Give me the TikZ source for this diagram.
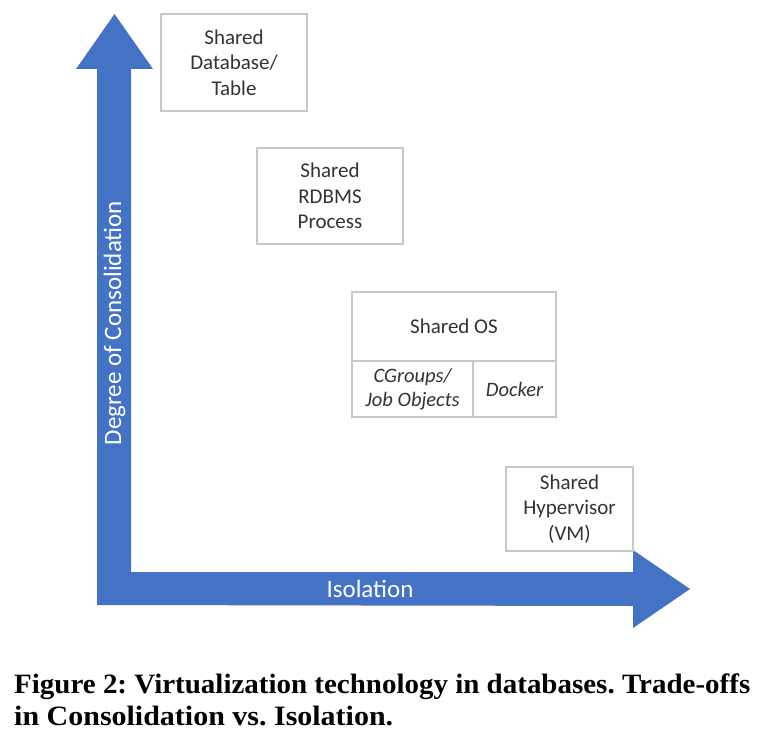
\documentclass[tikz,border=0pt]{standalone}
\usepackage{fontspec}
\usepackage{graphicx}
\newfontfamily\carlito{Carlito}
\newfontfamily\capfont{Liberation Serif}
\definecolor{officeblue}{HTML}{4472C4}
\definecolor{boxline}{HTML}{C8C8C8}
\definecolor{boxtext}{HTML}{333333}
\frenchspacing
\begin{document}
\begin{tikzpicture}[x=1pt,y=-1pt,
  box/.style={draw=boxline, line width=1.3pt, fill=white, inner sep=0pt},
  boxtxt/.style={text=boxtext, align=center, font=\carlito\fontsize{21}{25.5}\selectfont},
  celltxt/.style={text=boxtext, align=center, font=\carlito\itshape\fontsize{20.5}{24}\selectfont},
  axistxt/.style={text=white, font=\carlito\fontsize{25}{28}\selectfont},
  captxt/.style={anchor=base west, inner sep=0pt, font=\capfont\bfseries\fontsize{28}{32}\selectfont}]
\useasboundingbox (0,0) rectangle (770,746);
% L-shaped double arrow
\fill[officeblue] (97,605) -- (97,69) -- (76,69) -- (114.5,14) -- (153,69) -- (131,69)
  -- (131,572) -- (633,572) -- (633,550) -- (690,589) -- (633,628) -- (633,606) -- cycle;
\node[axistxt, rotate=90] (yl) at (114.5,323) {Degree of Consolidation};
\node[axistxt] (xl) at (370,589) {Isolation};
% boxes
\node[box, minimum width=146pt, minimum height=97pt] (b1) at (234,62.5) {};
\node[boxtxt] (t1) at (b1.center) {Shared\\Database/\\Table};
\node[box, minimum width=146pt, minimum height=96pt] (b2) at (330,196) {};
\node[boxtxt] (t2) at (b2.center) {Shared\\RDBMS\\Process};
\node[box, minimum width=204pt, minimum height=69pt] (b3) at (454,326.5) {};
\node[boxtxt] (t3) at (b3.center) {Shared OS};
\node[box, minimum width=121pt, minimum height=56pt] (b3a) at (412.5,389) {};
\node[celltxt] (t3a) at (b3a.center) {CGroups/\\Job Objects};
\node[box, minimum width=83pt, minimum height=56pt] (b3b) at (514.5,389) {};
\node[celltxt] (t3b) at (b3b.center) {Docker};
\node[box, minimum width=127pt, minimum height=84pt] (b4) at (569.5,509) {};
\node[boxtxt] (t4) at (b4.center) {Shared\\Hypervisor\\(VM)};
% caption
\node[captxt] (c1) at (14,693) {\resizebox{736pt}{\height}{Figure 2: Virtualization technology in databases. Trade-offs}};
\node[captxt] (c2) at (14,725) {\resizebox{379pt}{\height}{in Consolidation vs. Isolation.}};
\end{tikzpicture}
\end{document}
